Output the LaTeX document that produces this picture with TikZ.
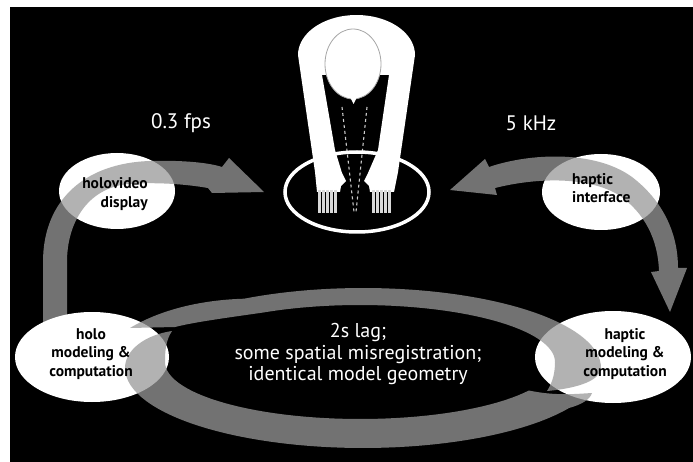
\documentclass[tikz,border=0pt]{standalone}
\usepackage{fontspec}
\setmainfont{PT Sans}
\usetikzlibrary{shapes.geometric}
\definecolor{bandgray}{gray}{0.6}
\begin{document}
\begin{tikzpicture}[x=1pt,y=-1pt,
  blob/.style={ellipse, fill=white, inner sep=0pt},
  band/.style={fill=bandgray, fill opacity=0.75},
  tag/.style={text=black, font=\bfseries\fontsize{15.5}{18.5}\selectfont, inner sep=0pt},
  rate/.style={text=white, font=\fontsize{21}{24}\selectfont, inner sep=0pt},
  note/.style={text=white, font=\fontsize{20}{21.5}\selectfont, align=center, inner sep=0pt}]
\useasboundingbox (0,0) rectangle (693,462);
\fill[white] (0,0) rectangle (693,462);
\fill[black] (10,7) rectangle (693,462);

% --- the user: arms, head and hands -------------------------------------
\fill[white] (315,172) -- (298,55)
  -- plot[domain=180:360, samples=40] ({356.5+58.5*cos(\x)},{55+40*sin(\x)})
  -- (398,172) -- (394,192) -- (370,192) -- (369,186) -- (364,181) -- (368,173)
  -- (378,150) -- (389,75) -- (322,75) -- (335,150) -- (342,173) -- (346,181)
  -- (341,186) -- (340,192) -- (317,192) -- cycle;
\draw[gray!70, line width=0.8, fill=white] (353,64) ellipse [x radius=28, y radius=35];
\fill[white] (350,97) -- (357,97) -- (353.5,104) -- cycle;
\draw[gray!40, line width=1.1, dash pattern=on 3pt off 3pt] (342,107) -- (354,212);
\draw[gray!40, line width=1.1, dash pattern=on 3pt off 3pt] (367,107) -- (356,212);
\foreach \f in {319.5,323.5,327.5,331.5,335.5,373.5,377.5,381.5,385.5,389.5}
  \draw[white!85!black, line width=2.2] (\f,190) -- (\f,213);
\draw[white, line width=3.5] (357,192) ellipse [x radius=72, y radius=40];

% --- rates -----------------------------------------------------------------
\node[rate] (fps) at (181,123) {0.3 fps};
\node[rate] (khz) at (531,123) {5 kHz};

% --- holo side: display, then the arc feeding the user --------------------
\node[blob, minimum width=116pt, minimum height=76pt] (disp) at (117,191) {};
\path[band] (43,330) -- (43,262) .. controls (43,200) and (85,163) .. (150,161)
  .. controls (185,160) and (210,163) .. (222,167) -- (229,158) -- (264,192)
  -- (212,193) -- (208,188) .. controls (185,184) and (155,182) .. (128,184)
  .. controls (88,188) and (67,222) .. (67,262) -- (67,330) -- cycle;
\node[blob, minimum width=154pt, minimum height=90pt] (holo) at (92,357) {};

% --- haptic side --------------------------------------------------------------
\node[blob, minimum width=118pt, minimum height=76pt] (hint) at (601,192) {};
\node[blob, minimum width=156pt, minimum height=92pt] (hmod) at (613,357) {};
\path[band] (450,190) -- (485,159) -- (489,167)
  .. controls (530,153) and (595,150) .. (632,177)
  .. controls (662,200) and (678,232) .. (678,268) -- (687,268) -- (670,312)
  -- (651,272) -- (659,271) .. controls (658,240) and (645,212) .. (617,194)
  .. controls (585,176) and (535,178) .. (495,188) -- (497,195) -- cycle;

% --- the loop joining the two model computations ------------------------------
% upper half, running left to right
\path[band] (130,328) .. controls (160,310) and (200,300) .. (244,298.7)
  -- plot[domain=240:360, samples=50] ({363+238*cos(\x)},{368+80*sin(\x)})
  .. controls (600,380) and (580,388) .. (547,391)
  .. controls (553,382) and (555,372) .. (555,362)
  -- plot[domain=360:240, samples=50] ({360+195*cos(\x)},{362+57*sin(\x)})
  .. controls (225,318) and (195,322) .. (175,327) -- cycle;
% lower half, running right to left
\path[band] (592,393) .. controls (590,400) and (580,405) .. (569,408)
  -- plot[domain=30:180, samples=50] ({363+238*cos(\x)},{368+80*sin(\x)})
  .. controls (125,350) and (145,335) .. (172,331)
  .. controls (166,340) and (165,350) .. (165,362)
  -- plot[domain=180:30, samples=50] ({360+195*cos(\x)},{362+57*sin(\x)})
  .. controls (555,396) and (575,394) .. (592,393) -- cycle;

% --- labels ---------------------------------------------------------------------
\node[tag, align=right, anchor=east] (dispT) at (148,194) {holovideo\\display};
\node[tag, align=center] (holoT) at (91,354) {holo\\modeling \&\\computation};
\node[tag, align=left, anchor=west] (hintT) at (572,188) {haptic\\interface};
\node[tag, align=center] (hmodT) at (625,354) {haptic\\modeling \&\\computation};
\node[note] (lag) at (358,354) {2s lag;\\some spatial misregistration;\\identical model geometry};
\end{tikzpicture}
\end{document}
